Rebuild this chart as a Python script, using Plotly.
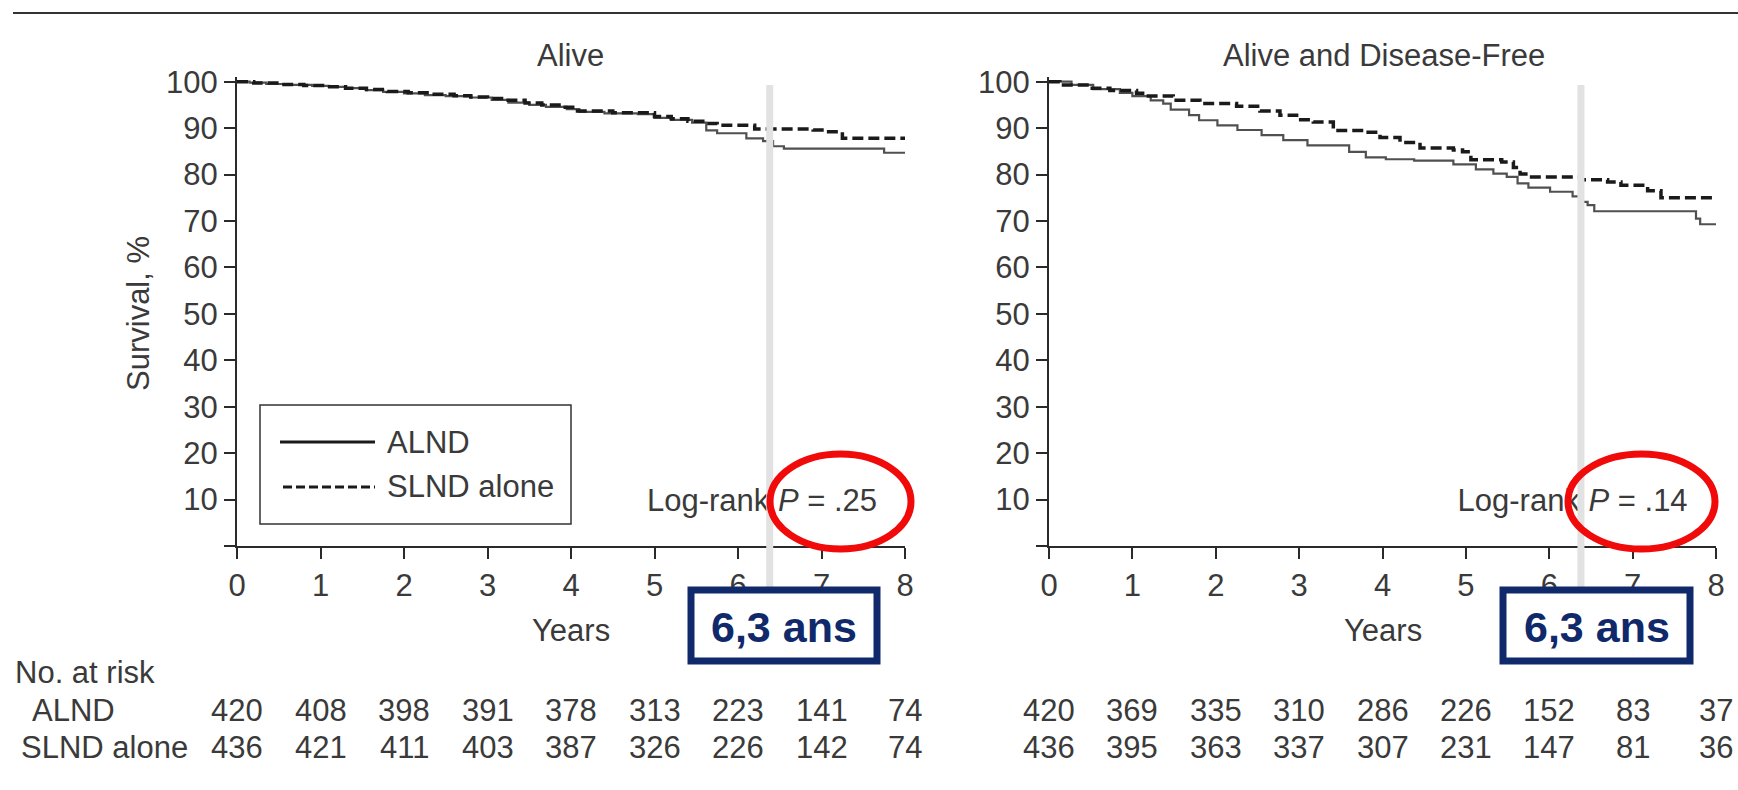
import plotly.graph_objects as go

W, H = 1738, 790
FONT = "Liberation Sans, Arial, Helvetica, sans-serif"
TXT = "#3a3a3a"

# ---------------- data ----------------
years_ticks = [0, 1, 2, 3, 4, 5, 6, 7, 8]
y_ticks = [0, 10, 20, 30, 40, 50, 60, 70, 80, 90, 100]

# Alive (overall survival)
os_alnd_t = [0, 0.15, 0.35, 0.6, 0.9, 1.1, 1.3, 1.55, 1.75, 2.0, 2.25, 2.5, 2.8, 3.05, 3.25, 3.5, 3.7,
             3.95, 4.1, 4.4, 4.8, 5.0, 5.2, 5.45, 5.62, 5.75, 6.1, 6.3, 6.42, 6.55, 7.75, 8.0]
os_alnd_v = [100, 99.8, 99.5, 99.3, 99.1, 98.9, 98.6, 98.2, 97.8, 97.5, 97.1, 96.9, 96.6, 96.1, 95.5, 95.0, 94.6,
             94.1, 93.5, 93.2, 93.0, 92.2, 91.8, 91.2, 89.5, 88.9, 87.8, 87.2, 86.1, 85.6, 84.7, 84.7]
os_slnd_t = [0, 0.2, 0.5, 0.8, 1.05, 1.3, 1.55, 1.8, 2.05, 2.3, 2.6, 2.8, 3.0, 3.2, 3.45, 3.65, 3.9,
             4.05, 4.5, 4.8, 5.0, 5.2, 5.4, 5.6, 5.75, 6.2, 6.9, 7.05, 7.25, 8.0]
os_slnd_v = [100, 99.7, 99.4, 99.2, 98.9, 98.6, 98.3, 97.9, 97.6, 97.3, 97.0, 96.7, 96.4, 96.0, 95.4, 95.0, 94.5,
             93.7, 93.3, 93.3, 92.5, 92.0, 91.5, 91.0, 90.6, 89.8, 89.6, 89.2, 87.8, 87.8]

# Alive and disease-free
dfs_alnd_t = [0, 0.27, 0.53, 0.85, 1.0, 1.22, 1.37, 1.46, 1.68, 1.8, 2.02, 2.26, 2.55, 2.81, 3.1, 3.6, 3.8,
              4.04, 4.38, 4.85, 5.12, 5.33, 5.49, 5.62, 5.75, 6.01, 6.28, 6.38, 6.46, 6.54, 7.76, 7.81, 8.0]
dfs_alnd_v = [100, 99.3, 98.4, 97.6, 96.9, 96.0, 95.3, 94.0, 92.8, 91.7, 90.6, 89.6, 88.5, 87.4, 86.3, 84.9, 83.7,
              83.3, 83.0, 82.2, 81.1, 80.2, 79.5, 78.1, 77.2, 76.3, 75.3, 74.1, 73.4, 72.1, 70.5, 69.3, 69.3]
dfs_slnd_t = [0, 0.13, 0.49, 0.73, 1.05, 1.17, 1.49, 1.81, 2.25, 2.53, 2.77, 2.97, 3.17, 3.41, 3.77, 3.97,
              4.21, 4.45, 4.85, 4.96, 5.06, 5.43, 5.57, 5.65, 5.75, 6.38, 6.7, 6.86, 7.18, 7.34, 8.0]
dfs_slnd_v = [100, 99.3, 98.6, 98.1, 97.5, 96.9, 96.0, 95.3, 94.7, 93.7, 92.8, 91.8, 91.3, 89.5, 89.1, 88.0,
              86.9, 85.7, 85.3, 84.9, 83.2, 82.7, 81.5, 80.1, 79.5, 78.9, 78.4, 77.7, 76.5, 75.0, 75.0]

risk_alnd_os = [420, 408, 398, 391, 378, 313, 223, 141, 74]
risk_slnd_os = [436, 421, 411, 403, 387, 326, 226, 142, 74]
risk_alnd_dfs = [420, 369, 335, 310, 286, 226, 152, 83, 37]
risk_slnd_dfs = [436, 395, 363, 337, 307, 231, 147, 81, 36]

panel_titles = ["Alive", "Alive and Disease-Free"]
pvalues = [".25", ".14"]
median_label = "6,3 ans"
median_year = 6.38
series_names = ["ALND", "SLND alone"]


# ---------------- helpers ----------------
def px(x):
    return x / W


def py(y):
    return 1 - y / H


ALND_STYLE = dict(color="#505050", width=2.2)
SLND_STYLE = dict(color="#1a1a1a", width=3.5, dash="11px,5px")

fig = go.Figure()
panels = [
    ("x", "y", os_alnd_t, os_alnd_v, os_slnd_t, os_slnd_v),
    ("x2", "y2", dfs_alnd_t, dfs_alnd_v, dfs_slnd_t, dfs_slnd_v),
]
for xa, ya, at, av, st, sv in panels:
    fig.add_trace(go.Scatter(x=at, y=av, mode="lines", line=dict(shape="hv", **ALND_STYLE),
                             name=series_names[0], xaxis=xa, yaxis=ya, showlegend=False))
    fig.add_trace(go.Scatter(x=st, y=sv, mode="lines", line=dict(shape="hv", **SLND_STYLE),
                             name=series_names[1], xaxis=xa, yaxis=ya, showlegend=False))

# log-rank text (as a text trace so the grey line / ellipse can sit on top of it)
logrank_pos = [(4.91, 9.3), (4.9, 9.3)]
for (xa, ya), (lx, ly), pv in zip([("x", "y"), ("x2", "y2")], logrank_pos, pvalues):
    fig.add_trace(go.Scatter(x=[lx], y=[ly], mode="text", text=["Log-rank <i>P</i> = " + pv],
                             textposition="middle right", xaxis=xa, yaxis=ya, showlegend=False,
                             hoverinfo="skip", cliponaxis=False,
                             textfont=dict(family=FONT, size=31, color=TXT)))

ydom = [py(546), py(546 - 101 * 4.643)]
axis_common = dict(showline=True, linecolor="#2a2a2a", linewidth=2, ticks="outside", ticklen=11,
                   tickwidth=1.6, tickcolor="#2a2a2a", showgrid=False, zeroline=False, automargin=False,
                   tickfont=dict(family=FONT, size=31, color=TXT))
xcommon = dict(axis_common, range=[0, 8], tickvals=years_ticks, ticktext=[str(v) for v in years_ticks])
ycommon = dict(axis_common, range=[0, 101], tickvals=y_ticks,
               ticktext=["" if v == 0 else str(v) for v in y_ticks])

fig.update_layout(
    width=W, height=H, autosize=False,
    margin=dict(l=0, r=0, t=0, b=0, pad=0, autoexpand=False),
    showlegend=False,
    paper_bgcolor="white", plot_bgcolor="white",
    font=dict(family=FONT, size=31, color=TXT),
    xaxis=dict(xcommon, domain=[px(237), px(905)], anchor="y"),
    yaxis=dict(ycommon, domain=ydom, anchor="x"),
    xaxis2=dict(xcommon, domain=[px(1049), px(1716)], anchor="y2"),
    yaxis2=dict(ycommon, domain=ydom, anchor="x2"),
)

shapes = []
ann = []

# top rule
shapes.append(dict(type="line", xref="paper", yref="paper", x0=px(13), x1=1, y0=py(13), y1=py(13),
                   line=dict(color="#333333", width=2)))

panel_geo = [
    dict(xa="x", title_x=570, ell=(770, 454, 911, 549), box=(691, 590, 877, 661), years_x=571),
    dict(xa="x2", title_x=1384, ell=(1568, 454, 1715, 549), box=(1503, 590, 1690, 661), years_x=1383),
]

for i, g in enumerate(panel_geo):
    ann.append(dict(text=panel_titles[i], xref="paper", yref="paper", x=px(g["title_x"]), y=py(55),
                    xanchor="center", yanchor="middle", showarrow=False,
                    font=dict(family=FONT, size=31, color=TXT)))
    ann.append(dict(text="Years", xref="paper", yref="paper", x=px(g["years_x"]), y=py(630),
                    xanchor="center", yanchor="middle", showarrow=False,
                    font=dict(family=FONT, size=31, color=TXT)))
    shapes.append(dict(type="line", xref=g["xa"], yref="paper", x0=median_year, x1=median_year,
                       y0=py(85), y1=py(592), line=dict(color="#e2e2e2", width=7), layer="above"))
    x0, y0, x1, y1 = g["ell"]
    shapes.append(dict(type="circle", xref="paper", yref="paper", x0=px(x0), x1=px(x1), y0=py(y0), y1=py(y1),
                       line=dict(color="#f00a0a", width=7), layer="above"))
    x0, y0, x1, y1 = g["box"]
    shapes.append(dict(type="rect", xref="paper", yref="paper", x0=px(x0), x1=px(x1), y0=py(y0), y1=py(y1),
                       line=dict(color="#10296b", width=7), fillcolor="white", layer="above"))
    ann.append(dict(text="<b>" + median_label + "</b>", xref="paper", yref="paper",
                    x=px((x0 + x1) / 2), y=py((y0 + y1) / 2 + 1), xanchor="center", yanchor="middle",
                    showarrow=False, font=dict(family=FONT, size=43, color="#10296b")))

ann.append(dict(text="Survival, %", xref="paper", yref="paper", x=px(138), y=py(314), textangle=-90,
                xanchor="center", yanchor="middle", showarrow=False,
                font=dict(family=FONT, size=31, color=TXT)))

# legend (drawn manually)
shapes.append(dict(type="rect", xref="paper", yref="paper", x0=px(260), x1=px(571), y0=py(405), y1=py(524),
                   line=dict(color="#333333", width=1.5)))
shapes.append(dict(type="line", xref="paper", yref="paper", x0=px(280), x1=px(375), y0=py(442), y1=py(442),
                   line=dict(color="#1a1a1a", width=3.2)))
shapes.append(dict(type="line", xref="paper", yref="paper", x0=px(283), x1=px(375), y0=py(487), y1=py(487),
                   line=dict(color="#1a1a1a", width=3.2, dash="9px,4px")))
for name, yy in zip(series_names, [442, 487]):
    ann.append(dict(text=name, xref="paper", yref="paper", x=px(385), y=py(yy), xanchor="left",
                    yanchor="middle", showarrow=False, font=dict(family=FONT, size=31, color=TXT)))

# numbers at risk
ann.append(dict(text="No. at risk", xref="paper", yref="paper", x=px(13), y=py(672), xanchor="left",
                yanchor="middle", showarrow=False, font=dict(family=FONT, size=31, color=TXT)))
ann.append(dict(text=series_names[0], xref="paper", yref="paper", x=px(30), y=py(710), xanchor="left",
                yanchor="middle", showarrow=False, font=dict(family=FONT, size=31, color=TXT)))
ann.append(dict(text=series_names[1], xref="paper", yref="paper", x=px(19), y=py(747), xanchor="left",
                yanchor="middle", showarrow=False, font=dict(family=FONT, size=31, color=TXT)))
for xa, rows in [("x", [risk_alnd_os, risk_slnd_os]), ("x2", [risk_alnd_dfs, risk_slnd_dfs])]:
    for row, yy in zip(rows, [710, 747]):
        for t, n in zip(years_ticks, row):
            ann.append(dict(text=str(n), xref=xa, yref="paper", x=t, y=py(yy), xanchor="center",
                            yanchor="middle", showarrow=False, font=dict(family=FONT, size=31, color=TXT)))

fig.update_layout(shapes=shapes, annotations=ann)
fig.write_html(
    "out.html",
    config={"displayModeBar": False},
    post_script="document.body.style.margin='0';document.body.style.padding='0';"
                "document.documentElement.style.overflow='hidden';",
)
